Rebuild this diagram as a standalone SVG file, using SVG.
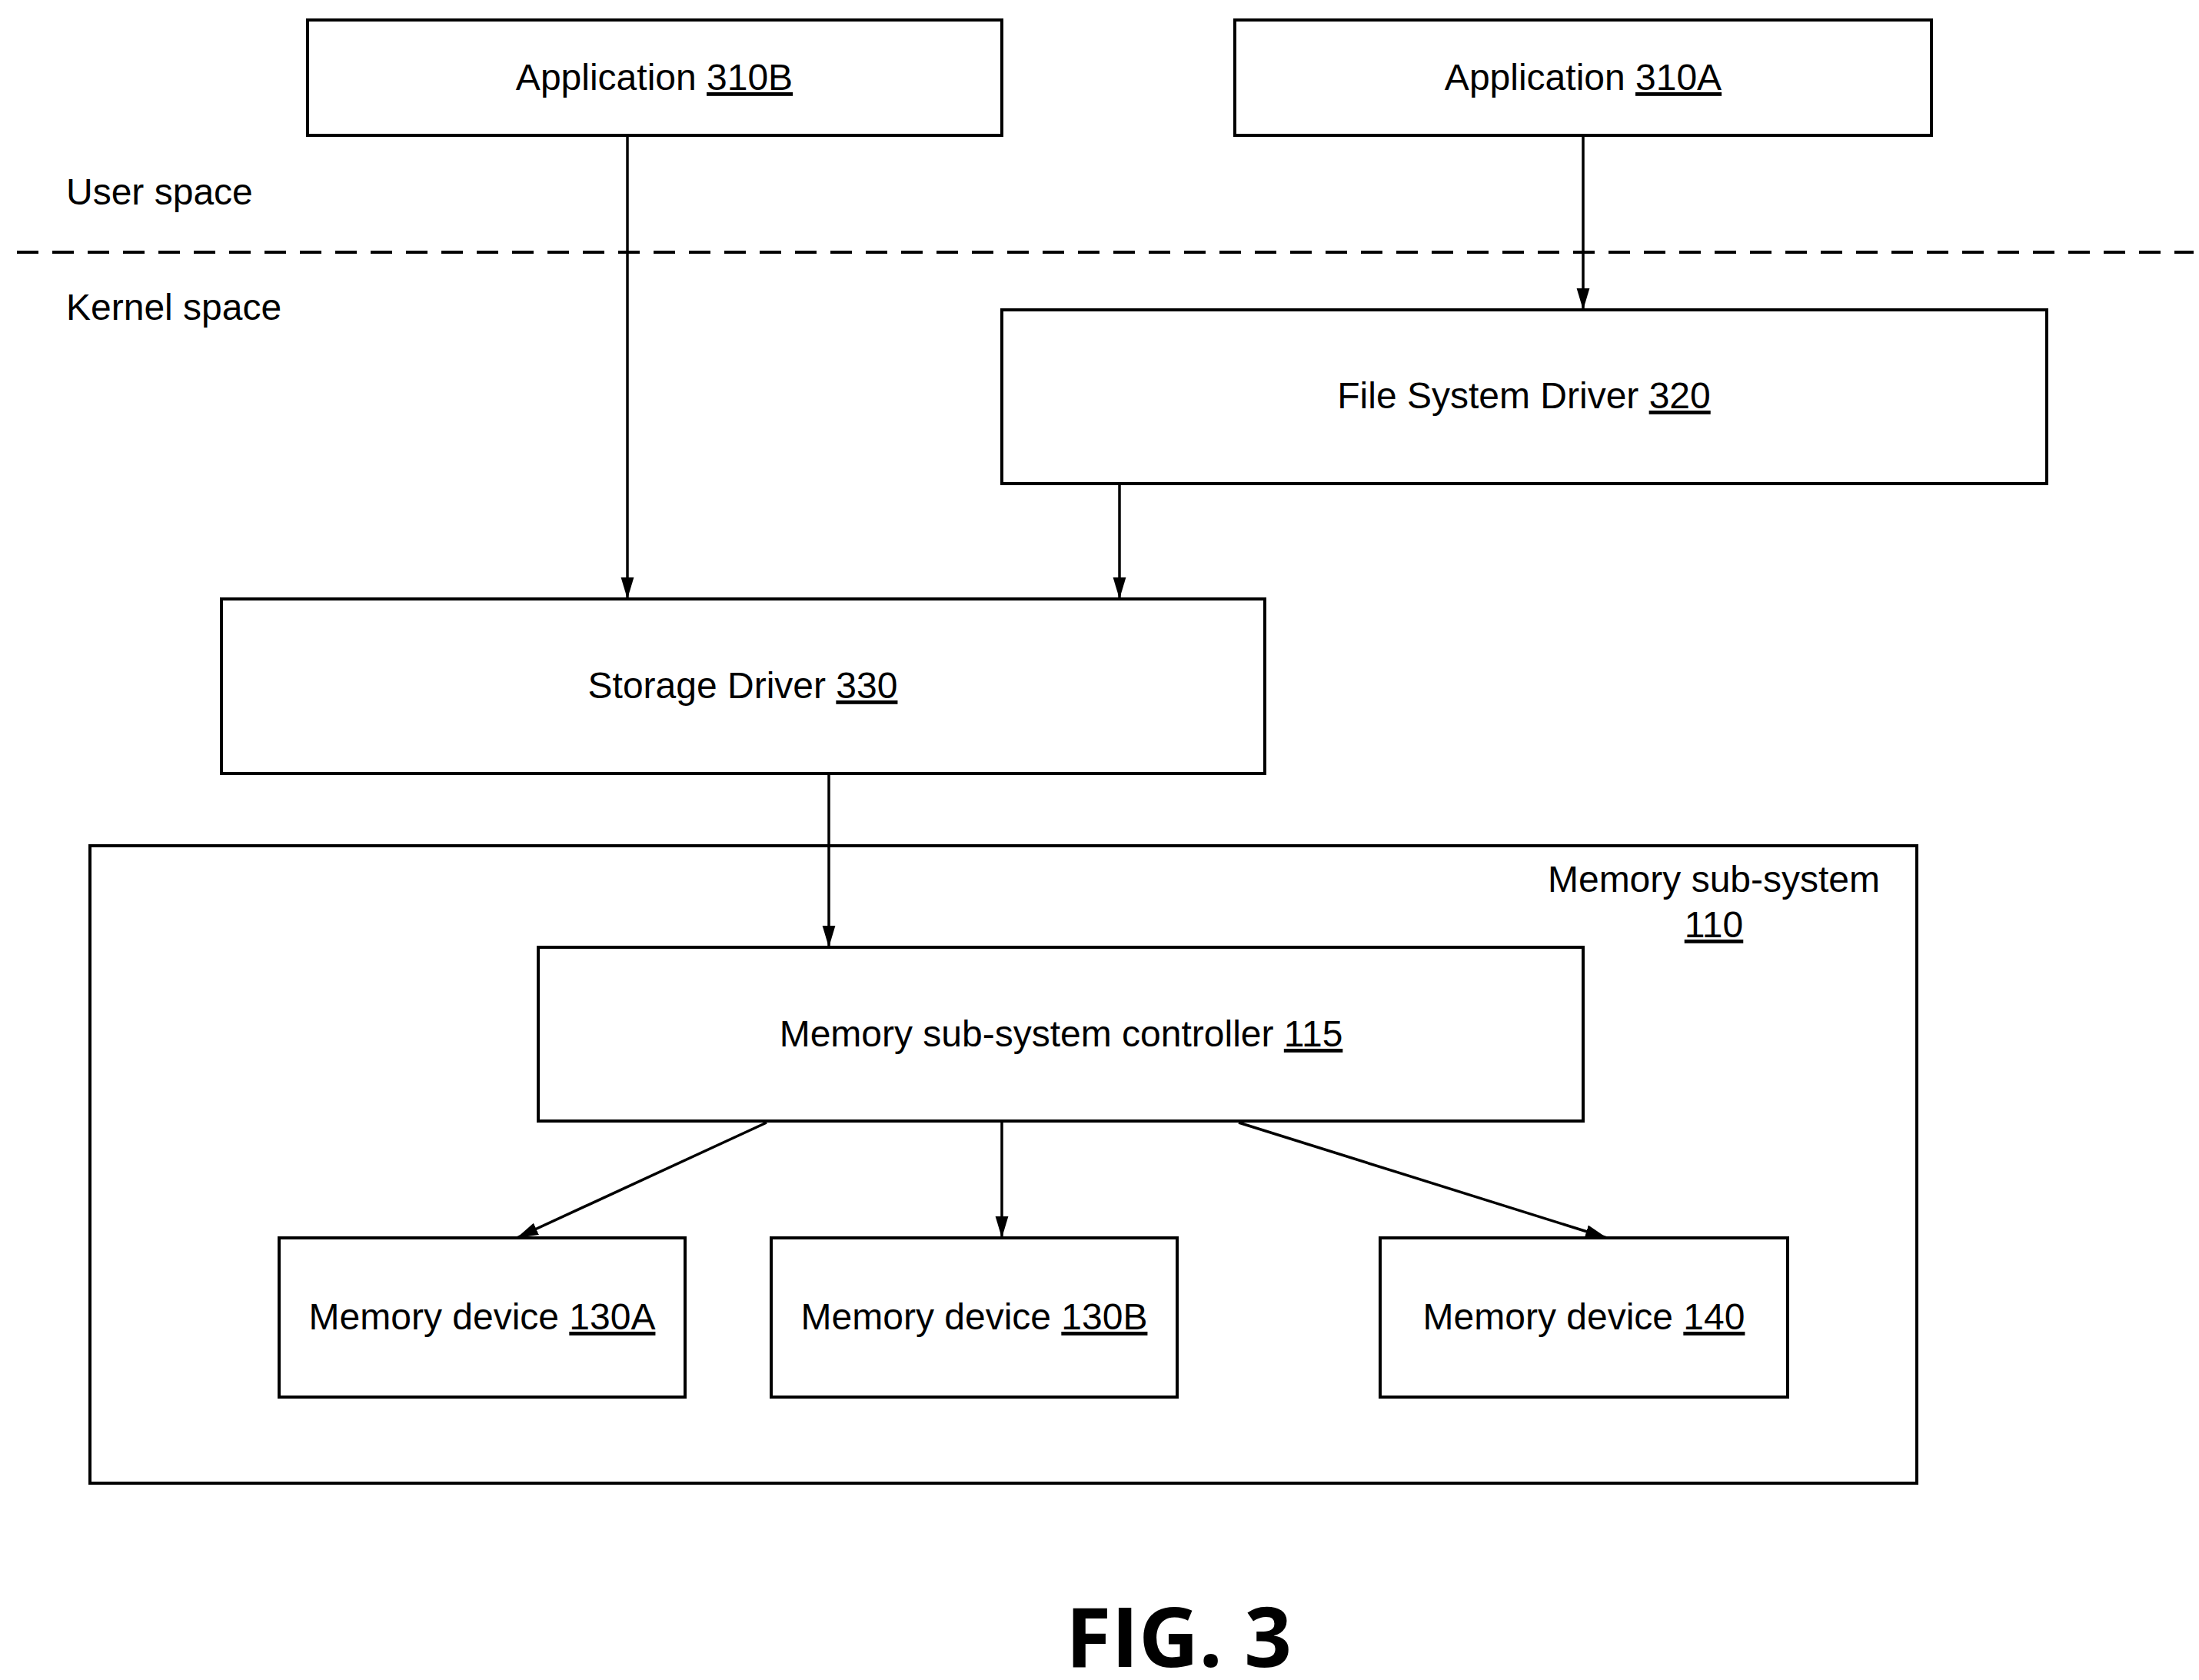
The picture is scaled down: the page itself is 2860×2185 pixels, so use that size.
<svg xmlns="http://www.w3.org/2000/svg" width="2860" height="2185" viewBox="0 0 2860 2185">
<style>
rect{fill:#fff;stroke:#000;stroke-width:4}
text{font-family:"Liberation Sans",Arial,sans-serif;font-size:48px;fill:#000}
.c{text-anchor:middle}
.u{text-decoration:underline}
.l{stroke:#000;stroke-width:3.5;fill:none}
</style>
<defs>
<marker id="b" viewBox="0 0 10 10" refX="10" refY="5" markerWidth="28" markerHeight="28" markerUnits="userSpaceOnUse" orient="auto"><path d="M0,2 L10,5 L0,8 z" fill="#000"/></marker></defs>
<rect width="2860" height="2185" style="stroke:none"/>
<text x="86" y="266">User space</text>
<text x="86" y="416">Kernel space</text>
<line x1="22" y1="328" x2="2853" y2="328" stroke="#000" stroke-width="4" stroke-dasharray="28,18"/>
<g id="n310B"><rect x="400" y="26" width="903" height="150"/><text class="c" x="851" y="117">Application <tspan class="u">310B</tspan></text></g>
<g id="n310A"><rect x="1606" y="26" width="906" height="150"/><text class="c" x="2059" y="117">Application <tspan class="u">310A</tspan></text></g>
<g id="n320"><rect x="1303" y="403" width="1359" height="226"/><text class="c" x="1982" y="531">File System Driver <tspan class="u">320</tspan></text></g>
<g id="n330"><rect x="288" y="779" width="1357" height="227"/><text class="c" x="966" y="908">Storage Driver <tspan class="u">330</tspan></text></g>
<g id="n110"><rect x="117" y="1100" width="2376" height="829"/><text class="c" x="2229" y="1160">Memory sub-system</text><text class="c" x="2229" y="1219"><tspan class="u">110</tspan></text></g>
<g id="n115"><rect x="700" y="1232" width="1359" height="226"/><text class="c" x="1380" y="1361">Memory sub-system controller <tspan class="u">115</tspan></text></g>
<g id="n130A"><rect x="363" y="1610" width="528" height="207"/><text class="c" x="627" y="1729">Memory device <tspan class="u">130A</tspan></text></g>
<g id="n130B"><rect x="1003" y="1610" width="528" height="207"/><text class="c" x="1267" y="1729">Memory device <tspan class="u">130B</tspan></text></g>
<g id="n140"><rect x="1795" y="1610" width="530" height="207"/><text class="c" x="2060" y="1729">Memory device <tspan class="u">140</tspan></text></g>
<text class="c" x="1533" y="2168" style="font-family:'Open Sans','Liberation Sans',sans-serif;font-weight:bold;font-size:108px">FIG. 3</text>
<g id="connectors">
<line class="l" x1="816" y1="176" x2="816" y2="779" marker-end="url(#b)"/>
<line class="l" x1="2059" y1="176" x2="2059" y2="403" marker-end="url(#b)"/>
<line class="l" x1="1456" y1="629" x2="1456" y2="779" marker-end="url(#b)"/>
<line class="l" x1="1078" y1="1006" x2="1078" y2="1232" marker-end="url(#b)"/>
<line class="l" x1="997" y1="1460" x2="672" y2="1610" marker-end="url(#b)"/>
<line class="l" x1="1303" y1="1458" x2="1303" y2="1610" marker-end="url(#b)"/>
<line class="l" x1="1611" y1="1460" x2="2090" y2="1610" marker-end="url(#b)"/>
</g>
</svg>
